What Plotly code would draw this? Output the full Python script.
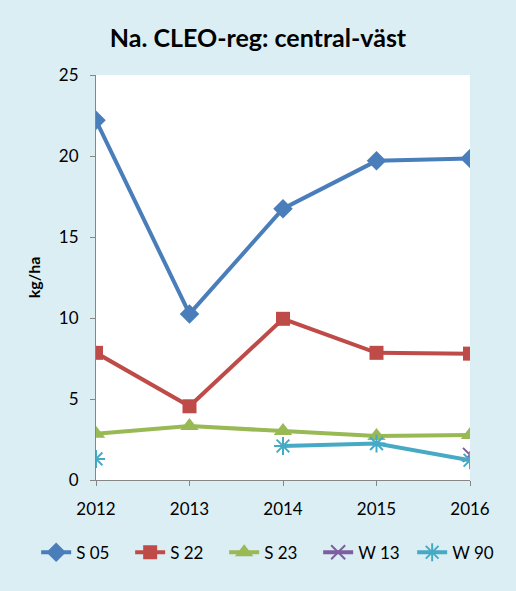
import plotly.graph_objects as go

years = [2012, 2013, 2014, 2015, 2016]
s05 = [22.2, 10.25, 16.75, 19.7, 19.85]
s22 = [7.85, 4.55, 9.95, 7.85, 7.8]
s23 = [2.85, 3.33, 3.02, 2.72, 2.78]
w13 = [None, None, None, None, 1.55]
w90 = [1.3, None, 2.1, 2.25, 1.22]

series = [
    ("S 05", s05, "#4A7EBB", "diamond", 15, 0),
    ("S 22", s22, "#BE4B48", "square", 14, 0),
    ("S 23", s23, "#98B954", "triangle-up", 16, 0),
    ("W 13", w13, "#7D5FA0", "x-thin", 14, 2),
    ("W 90", w90, "#46AAC5", "asterisk-open", 15, 2),
]

fig = go.Figure()
for name, vals, col, sym, size, lw in series:
    fig.add_trace(go.Scatter(
        x=years, y=vals, name=name, mode="lines+markers",
        line=dict(color=col, width=4),
        marker=dict(symbol=sym, size=size, color=col,
                    line=dict(color=col, width=lw)),
        connectgaps=False,
    ))

fig.update_layout(
    width=516, height=591,
    paper_bgcolor="#DBEEF4", plot_bgcolor="white",
    margin=dict(l=96, r=46, t=75, b=111),
    title=dict(text="<b>Na. CLEO-reg: central-väst</b>", x=0.5, xanchor="center",
               y=0.935, yanchor="middle",
               font=dict(family="Lato", size=25, color="black")),
    font=dict(family="Lato", size=17, color="black"),
    showlegend=True,
    legend=dict(orientation="h", x=-0.16, xanchor="left", y=-0.135, yanchor="top",
                font=dict(size=17), bgcolor="rgba(0,0,0,0)",
                tracegroupgap=0, itemwidth=30, entrywidth=49, entrywidthmode="pixels"),
)
fig.update_xaxes(range=[2012, 2016], tickvals=years, showgrid=False,
                 showline=True, linecolor="#868686", linewidth=1,
                 ticks="outside", ticklen=5, tickcolor="#868686",
                 zeroline=False, tickfont=dict(size=17), ticklabelstandoff=9)
fig.update_yaxes(range=[0, 25], dtick=5, showgrid=False,
                 showline=True, linecolor="#868686", linewidth=1,
                 ticks="outside", ticklen=5, tickcolor="#868686",
                 zeroline=False, tickfont=dict(size=17), ticklabelstandoff=8,
                 title=dict(text="<b>kg/ha</b>", font=dict(size=16), standoff=14))

fig.write_html("out.html", config={"displayModeBar": False},
               post_script="document.body.style.margin='0';document.body.style.overflow='hidden';")
